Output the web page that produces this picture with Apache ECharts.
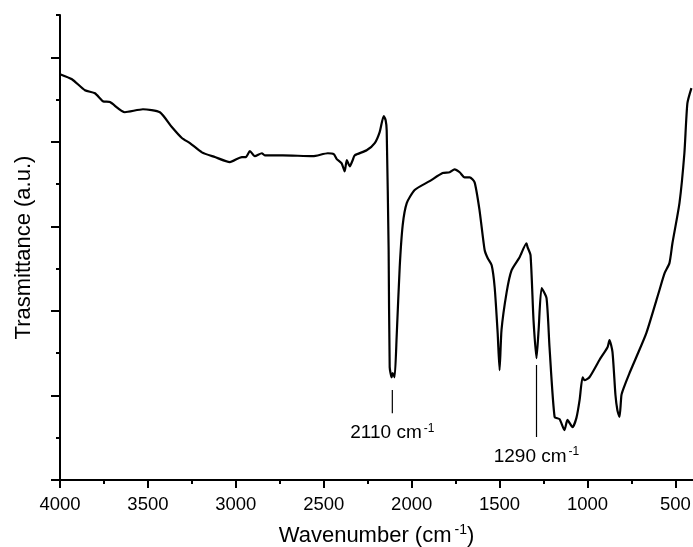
<!DOCTYPE html>
<html>
<head>
<meta charset="utf-8">
<script src="https://cdn.jsdelivr.net/npm/echarts@6/dist/echarts.min.js"></script>
<style>
html,body{margin:0;padding:0;background:#fff;}
#chart{width:693px;height:547px;}
</style>
</head>
<body>
<div id="chart"></div>
<script>
// Wavenumber (cm-1) of each traced point
var wavenumbers = [4000,3932,3858,3801,3756,3716,3631,3528,3432,3364,3307,3261,3193,3119,3034,2966,2943,2920,2892,2852,2835,2733,2562,2477,2443,2426,2398,2381,2369,2352,2335,2324,2256,2210,2182,2159,2148,2142,2131,2125,2114,2108,2097,2085,2068,2051,2028,1983,1898,1824,1784,1756,1727,1699,1670,1642,1614,1585,1568,1545,1528,1511,1500,1489,1460,1432,1386,1347,1341,1324,1307,1290,1278,1261,1233,1216,1187,1159,1131,1114,1085,1063,1045,1028,1017,989,932,886,875,858,841,830,818,807,795,761,722,665,591,562,534,517,477,449,432,409];
// Transmittance (a.u.) of each traced point
var transmittance = [9.60,9.48,9.22,9.15,8.96,8.94,8.70,8.77,8.70,8.35,8.09,7.97,7.75,7.64,7.52,7.64,7.64,7.78,7.66,7.73,7.68,7.68,7.66,7.73,7.71,7.59,7.49,7.30,7.57,7.42,7.57,7.68,7.80,7.97,8.23,8.61,8.51,8.27,5.44,2.67,2.43,2.53,2.43,3.43,5.04,6.03,6.55,6.86,7.07,7.26,7.28,7.35,7.28,7.16,7.16,7.04,6.38,5.44,5.25,5.08,4.56,3.48,2.60,3.55,4.44,4.96,5.27,5.60,5.51,5.32,3.78,2.88,3.55,4.54,4.30,3.14,1.49,1.44,1.18,1.42,1.25,1.47,1.89,2.43,2.36,2.43,2.84,3.14,3.31,3.03,2.01,1.65,1.49,2.01,2.17,2.53,2.91,3.48,4.49,4.89,5.13,5.60,6.55,7.73,8.91,9.27];
// Annotated bands: wavenumber, marker top, marker bottom
var bandWavenumbers = [2110, 1290];
var bandMarkTop = [2.13, 2.72];
var bandMarkBottom = [1.58, 1.02];
var bandLabels = ['2110 cm', '1290 cm'];
// Axis ticks
var xMajorTicks = [500,1000,1500,2000,2500,3000,3500,4000];
var xMinorTicks = [750,1250,1750,2250,2750,3250,3750];
var yMajorTicks = [0,2,4,6,8,10];
var yMinorTicks = [1,3,5,7,9,11];

var FONT = '"Liberation Sans", Arial, sans-serif';
var spectrum = wavenumbers.map(function (w, i) { return [w, transmittance[i]]; });

var series = [{
  type: 'line', data: spectrum, showSymbol: false, symbol: 'none', smooth: 0.2,
  lineStyle: {color: '#000', width: 2.2}, silent: true, animation: false
}];
bandWavenumbers.forEach(function (w, i) {
  series.push({
    type: 'line', data: [[w, bandMarkTop[i]], [w, bandMarkBottom[i]]],
    showSymbol: false, symbol: 'none', lineStyle: {color: '#000', width: 1.2}, animation: false, silent: true
  });
  series.push({
    type: 'scatter', data: [[w, bandMarkBottom[i]]], symbolSize: 0, animation: false, silent: true,
    itemStyle: {color: '#000'},
    label: {
      show: true, position: 'bottom', distance: 9, color: '#000', opacity: 1,
      formatter: '{t|' + bandLabels[i] + '}{s|-1}',
      rich: {
        t: {fontFamily: FONT, fontSize: 19, color: '#000', lineHeight: 22},
        s: {fontFamily: FONT, fontSize: 12, color: '#000', verticalAlign: 'top', lineHeight: 12, padding: [0,0,0,2]}
      }
    },
    emphasis: {disabled: true}
  });
});

var chart = echarts.init(document.getElementById('chart'), null, {renderer: 'canvas'});
chart.setOption({
  backgroundColor: '#fff',
  animation: false,
  grid: {left: 60, right: 0, top: 15, bottom: 67, containLabel: false, outerBoundsMode: 'none'},
  xAxis: [{
    type: 'value', inverse: true, min: 400, max: 4000,
    name: '{t|Wavenumber (cm}{s|-1}{t|)}', nameLocation: 'middle', nameGap: 43,
    nameTextStyle: {
      rich: {
        t: {fontFamily: FONT, fontSize: 22, color: '#000', lineHeight: 26},
        s: {fontFamily: FONT, fontSize: 14, color: '#000', verticalAlign: 'top', lineHeight: 14, padding: [0,0,0,3]}
      }
    },
    axisLine: {show: true, lineStyle: {color: '#000', width: 2}},
    axisTick: {show: true, inside: false, length: 8, lineStyle: {color: '#000', width: 2}, customValues: xMajorTicks},
    axisLabel: {show: true, margin: 15, fontFamily: FONT, fontSize: 18.5, color: '#000', customValues: xMajorTicks,
      formatter: function (v) { return String(v); }},
    splitLine: {show: false}
  }, {
    type: 'value', inverse: true, min: 400, max: 4000, position: 'bottom',
    axisLine: {show: false},
    axisTick: {show: true, inside: false, length: 4, lineStyle: {color: '#000', width: 2}, customValues: xMinorTicks},
    axisLabel: {show: false},
    splitLine: {show: false}
  }],
  yAxis: [{
    type: 'value', min: 0, max: 11, position: 'left',
    name: 'Trasmittance (a.u.)', nameLocation: 'middle', nameGap: 25,
    nameTextStyle: {fontFamily: FONT, fontSize: 22, color: '#000'},
    axisLine: {show: true, lineStyle: {color: '#000', width: 2}},
    axisTick: {show: true, inside: false, length: 9, lineStyle: {color: '#000', width: 2}, customValues: yMajorTicks},
    axisLabel: {show: false},
    splitLine: {show: false}
  }, {
    type: 'value', min: 0, max: 11, position: 'left', offset: 0,
    axisLine: {show: false},
    axisTick: {show: true, inside: false, length: 4, lineStyle: {color: '#000', width: 2}, customValues: yMinorTicks},
    axisLabel: {show: false},
    splitLine: {show: false}
  }],
  series: series
});
</script>
</body>
</html>
